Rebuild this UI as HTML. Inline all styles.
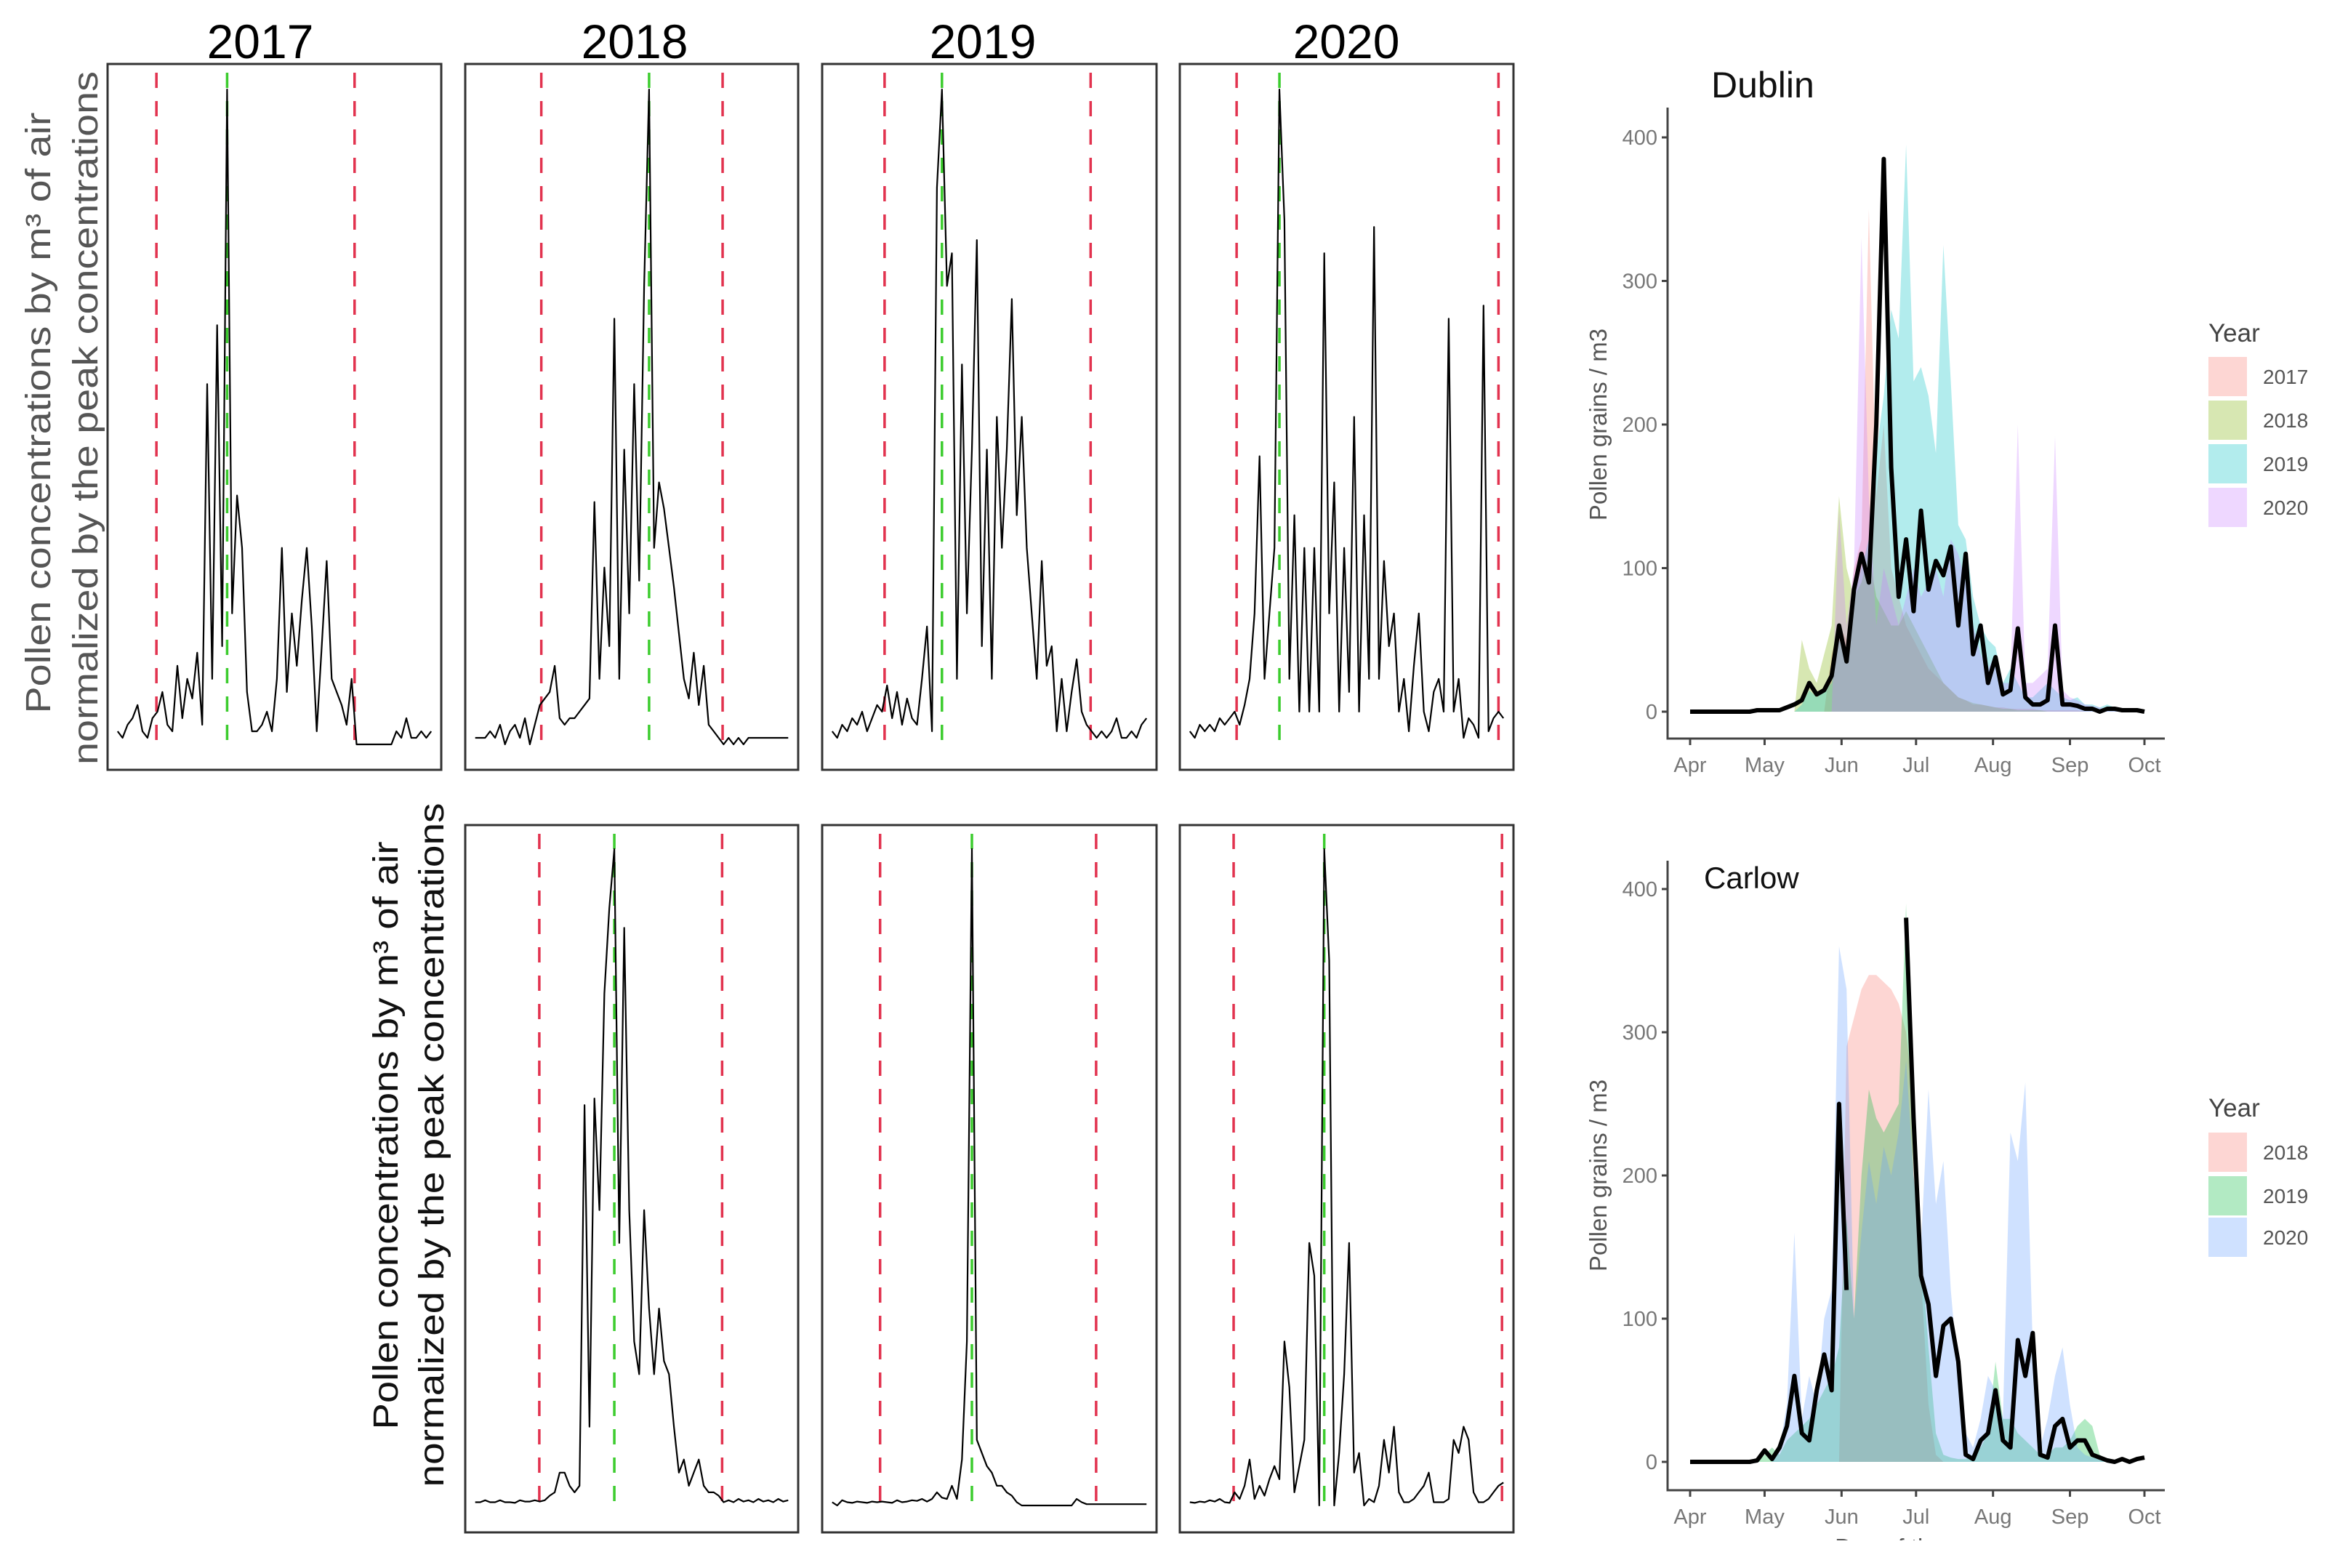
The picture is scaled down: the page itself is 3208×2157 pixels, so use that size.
<!DOCTYPE html>
<html><head><meta charset="utf-8"><style>
html,body{margin:0;padding:0;background:#fff;}
svg{display:block;font-family:"Liberation Sans",sans-serif;}
</style></head><body>
<svg id="fig" xmlns="http://www.w3.org/2000/svg" width="3208" height="2157" viewBox="0 0 3208 2157">
<rect x="0" y="0" width="3208" height="2157" fill="#fff"/>
<g fill="#555" font-size="48">
<text transform="translate(69,568) rotate(-90)" text-anchor="middle" textLength="827" lengthAdjust="spacingAndGlyphs">Pollen concentrations by m³ of air</text>
<text transform="translate(134,575) rotate(-90)" text-anchor="middle" textLength="954" lengthAdjust="spacingAndGlyphs">normalized by the peak concentrations</text>
</g>
<g fill="#111" font-size="48" font-family="'Liberation Sans Narrow','Liberation Sans',sans-serif">
<text transform="translate(547,1562) rotate(-90)" text-anchor="middle" textLength="809" lengthAdjust="spacingAndGlyphs">Pollen concentrations by m³ of air</text>
<text transform="translate(610,1575) rotate(-90)" text-anchor="middle" textLength="941" lengthAdjust="spacingAndGlyphs">normalized by the peak concentrations</text>
</g>
<g id="panels"></g>
<g id="dublin"></g>
<g id="carlow"></g>
</svg>
<script>
// ---------- small panel data (normalized concentrations) ----------
const top2017=[0.02,0.01,0.03,0.04,0.06,0.02,0.01,0.04,0.05,0.08,0.03,0.02,0.12,0.04,0.10,0.07,0.14,0.03,0.55,0.10,0.64,0.15,1.0,0.20,0.38,0.30,0.08,0.02,0.02,0.03,0.05,0.02,0.10,0.30,0.08,0.20,0.12,0.22,0.30,0.18,0.02,0.15,0.28,0.10,0.08,0.06,0.03,0.10,0.00,0,0,0,0,0,0,0,0.02,0.01,0.04,0.01,0.01,0.02,0.01,0.02];
const top2018=[0.01,0.01,0.01,0.02,0.01,0.03,0.0,0.02,0.03,0.01,0.04,0.0,0.03,0.06,0.07,0.08,0.12,0.04,0.03,0.04,0.04,0.05,0.06,0.07,0.37,0.10,0.27,0.15,0.65,0.10,0.45,0.20,0.55,0.25,0.70,1.0,0.30,0.40,0.36,0.30,0.24,0.17,0.10,0.07,0.14,0.06,0.12,0.03,0.02,0.01,0.0,0.01,0.0,0.01,0.0,0.01,0.01,0.01,0.01,0.01,0.01,0.01,0.01,0.01];
const top2019=[0.02,0.01,0.03,0.02,0.04,0.03,0.05,0.02,0.04,0.06,0.05,0.09,0.04,0.08,0.03,0.07,0.04,0.03,0.10,0.18,0.02,0.85,1.0,0.70,0.75,0.10,0.58,0.20,0.45,0.77,0.15,0.45,0.10,0.50,0.30,0.45,0.68,0.35,0.50,0.30,0.20,0.10,0.28,0.12,0.15,0.02,0.10,0.02,0.08,0.13,0.05,0.03,0.02,0.01,0.02,0.01,0.02,0.04,0.01,0.01,0.02,0.01,0.03,0.04];
const top2020=[0.02,0.01,0.03,0.02,0.03,0.02,0.04,0.03,0.04,0.05,0.03,0.06,0.10,0.20,0.44,0.10,0.20,0.30,1.0,0.80,0.10,0.35,0.05,0.30,0.05,0.30,0.05,0.75,0.20,0.40,0.05,0.30,0.08,0.50,0.05,0.35,0.10,0.79,0.10,0.28,0.15,0.20,0.05,0.10,0.02,0.12,0.20,0.05,0.02,0.08,0.10,0.05,0.65,0.05,0.10,0.01,0.04,0.03,0.01,0.67,0.02,0.04,0.05,0.04];
const bot2018=[0.005,0.005,0.008,0.005,0.005,0.008,0.005,0.005,0.004,0.008,0.006,0.006,0.008,0.006,0.008,0.015,0.02,0.05,0.05,0.03,0.02,0.03,0.61,0.12,0.62,0.45,0.78,0.91,1.0,0.40,0.88,0.45,0.25,0.20,0.45,0.30,0.20,0.30,0.22,0.20,0.12,0.05,0.07,0.03,0.05,0.07,0.03,0.02,0.02,0.015,0.005,0.008,0.005,0.01,0.006,0.008,0.005,0.01,0.006,0.008,0.005,0.01,0.006,0.008];
const bot2019=[0.005,0.0,0.008,0.005,0.004,0.006,0.005,0.004,0.006,0.005,0.006,0.005,0.004,0.008,0.005,0.006,0.008,0.007,0.01,0.006,0.01,0.02,0.012,0.01,0.03,0.01,0.07,0.25,1.0,0.10,0.08,0.06,0.05,0.03,0.03,0.02,0.015,0.005,0,0,0,0,0,0,0,0,0,0,0,0.01,0.005,0.002,0.002,0.002,0.002,0.002,0.002,0.002,0.002,0.002,0.002,0.002,0.002,0.002];
const bot2020=[0.005,0.004,0.006,0.005,0.008,0.006,0.01,0.005,0.004,0.02,0.01,0.03,0.07,0.01,0.03,0.015,0.04,0.06,0.04,0.25,0.18,0.02,0.06,0.10,0.40,0.35,0.0,1.0,0.83,0.0,0.08,0.20,0.40,0.05,0.08,0.0,0.01,0.005,0.03,0.10,0.05,0.12,0.02,0.005,0.005,0.01,0.02,0.03,0.05,0.005,0.005,0.005,0.01,0.10,0.08,0.12,0.10,0.02,0.005,0.005,0.01,0.02,0.03,0.035];
// season start (red), peak (green), season end (red) as series indices
const mk2017=[7.8,22,47.6];
const mk2018=[13.3,35,49.8];
const mk2019=[10.5,22,51.8];
const mk2020=[9.4,18,62];
const mkB2018=[12.9,28,49.7];
const mkB2019=[9.6,28,52.9];
const mkB2020=[8.8,27,62.7];
const panelYears=["2017","2018","2019","2020"];

// ---------- Dublin / Carlow data (pollen grains / m3, every 3 days from 1 Apr) ----------
const dayGrid=Array.from({length:62},(_,i)=>i*3);
const monthLabels=["Apr","May","Jun","Jul","Aug","Sep","Oct"];
const monthDays=[0,30,61,91,122,153,183];
const yTicks=[0,100,200,300,400];
const dublinMean=[0,0,0,0,0,0,0,0,0,1,1,1,1,3,5,8,20,12,15,25,60,35,85,110,90,200,385,170,80,120,70,140,85,105,95,115,60,110,40,60,20,38,12,15,58,10,5,5,8,60,5,5,4,2,2,0,2,2,1,1,1,0];
const dublin2017=[0,0,0,0,0,0,0,0,0,0,0,0,0,0,0,0,0,0,0,40,60,50,100,120,350,150,200,100,80,60,50,40,30,25,20,15,10,8,5,5,4,3,3,2,2,2,2,1,1,1,1,1,1,0,0,0,0,0,0,0,0,0];
const dublin2018=[0,0,0,0,0,0,0,0,0,0,0,0,0,0,0,50,30,20,40,60,150,100,80,90,110,80,70,60,60,70,60,50,40,30,20,15,10,8,6,5,4,3,2,2,1,1,1,1,0,0,0,0,0,0,0,0,0,0,0,0,0,0];
const dublin2019=[0,0,0,0,0,0,0,0,0,0,0,0,0,0,0,5,15,10,15,20,50,40,80,100,120,180,220,280,260,395,230,240,220,180,325,230,130,120,80,60,50,45,20,30,20,10,10,15,20,15,10,8,10,5,5,3,5,3,2,1,1,0];
const dublin2020=[0,0,0,0,0,0,0,0,0,0,0,0,0,0,0,0,0,0,0,0,140,60,100,330,150,60,100,80,60,80,100,80,90,100,80,120,110,90,60,40,30,40,20,20,200,20,20,25,30,192,15,10,8,5,4,3,2,2,1,1,0,0];
const carlowMean=[0,0,0,0,0,0,0,0,0,1,8,2,10,25,60,20,15,50,75,50,250,120,null,null,null,null,null,null,null,380,240,130,110,60,95,100,70,5,2,15,20,50,15,10,85,60,90,5,3,25,30,10,15,15,5,3,1,0,2,0,2,3];
const carlow2018=[0,0,0,0,0,0,0,0,0,0,0,0,0,0,0,0,0,0,0,0,0,290,310,330,340,340,335,330,320,300,250,130,40,5,0,0,0,0,0,0,0,0,0,0,0,0,0,0,0,0,0,0,0,0,0,0,0,0,0,0,0,0];
const carlow2019=[0,0,0,0,0,0,0,0,0,0,5,10,5,15,20,25,30,40,50,60,80,170,100,200,260,240,230,240,250,390,200,150,80,20,5,3,2,2,5,10,20,70,30,30,20,15,10,5,5,10,10,15,25,30,25,5,2,1,0,0,0,0];
const carlow2020=[0,0,0,0,0,0,0,0,0,0,0,0,10,40,160,30,60,40,100,120,360,330,100,160,210,180,220,200,230,280,200,150,260,180,210,120,60,20,10,30,60,50,30,230,210,265,80,10,30,60,80,40,10,5,3,2,1,0,0,0,0,0];

const NS="http://www.w3.org/2000/svg";
function mk(tag,attrs,parent){const e=document.createElementNS(NS,tag);for(const k in attrs)e.setAttribute(k,attrs[k]);parent.appendChild(e);return e;}

// ---------- small panels ----------
const panelsG=document.getElementById('panels');
const colX=[[148,607],[640,1098],[1131,1591],[1623,2082]];
const titleX=[358,873,1352,1852];
const rowY=[[88,1059,123,1024],[1135,2108,1168,2071]];
const panelDefs=[
 [0,0,top2017,mk2017],[0,1,top2018,mk2018],[0,2,top2019,mk2019],[0,3,top2020,mk2020],
 [1,1,bot2018,mkB2018],[1,2,bot2019,mkB2019],[1,3,bot2020,mkB2020]];
panelYears.forEach((yr,c)=>{
  const t=mk('text',{x:titleX[c],y:80,'text-anchor':'middle','font-size':66,fill:'#000'},panelsG);
  
  
  t.textContent=yr;
});
panelDefs.forEach(([r,c,vals,marks])=>{
  const [x0,x1]=colX[c];const [y0,y1,peakY,baseY]=rowY[r];
  const g=mk('g',{},panelsG);
  
  
  const n=vals.length;
  const xs=i=>x0+(x1-x0)*(0.03+0.94*i/(n-1));
  const ys=v=>baseY-v*(baseY-peakY);
  const box=mk('rect',{x:x0,y:y0,width:x1-x0,height:y1-y0,fill:'none',stroke:'#333','stroke-width':3},g);
  
  
  marks.forEach((m,k)=>{
    const ln=mk('line',{x1:xs(m),x2:xs(m),y1:y0+12,y2:baseY+6,stroke:k===1?'#3ccc2e':'#e2334f','stroke-width':3.5,'stroke-dasharray':'21 18'},g);
    
    
  });
  const pts=vals.map((v,i)=>xs(i).toFixed(1)+','+ys(v).toFixed(1)).join(' ');
  const pl=mk('polyline',{points:pts,fill:'none',stroke:'#000','stroke-width':2.2,'stroke-linejoin':'round'},g);
  
  
});

// ---------- ggplot-like charts ----------
function drawCity(gid,cfg){
  const g=document.getElementById(gid);
  const xs=d=>2325+d*(2950-2325)/183;
  const ys=v=>cfg.y0-v*(cfg.y0-cfg.y400)/400;
  const tt=mk('text',{x:cfg.titleX,y:cfg.titleY,'font-size':cfg.titleSize,fill:'#111'},g);
  
  
  tt.textContent=cfg.title;
  cfg.layers.forEach((L,li)=>{
    let d='M'+xs(dayGrid[0])+','+ys(0);
    L.vals.forEach((v,i)=>{d+=' L'+xs(dayGrid[i]).toFixed(1)+','+ys(v).toFixed(1);});
    d+=' L'+xs(dayGrid[dayGrid.length-1])+','+ys(0)+' Z';
    const p=mk('path',{d:d,fill:L.color,'fill-opacity':0.3,stroke:'none'},g);
    
    
  });
  let d='';let pen=false;
  cfg.mean.forEach((v,i)=>{
    if(v===null){pen=false;return;}
    d+=(pen?' L':' M')+xs(dayGrid[i]).toFixed(1)+','+ys(v).toFixed(1);pen=true;
  });
  const ml=mk('path',{d:d,fill:'none',stroke:'#000','stroke-width':6,'stroke-linejoin':'round'},g);
  
  
  const ax=mk('path',{d:'M2294,'+cfg.axTop+' V'+cfg.axY+' H2978',fill:'none',stroke:'#444','stroke-width':3},g);
  
  
  yTicks.forEach(t=>{
    mk('line',{x1:2286,x2:2294,y1:ys(t),y2:ys(t),stroke:'#444','stroke-width':3},g);
    const tl=mk('text',{x:2280,y:ys(t)+10,'text-anchor':'end','font-size':29,fill:'#777'},g);
    
    
    tl.textContent=t;
  });
  monthDays.forEach((m,i)=>{
    mk('line',{x1:xs(m),x2:xs(m),y1:cfg.axY,y2:cfg.axY+9,stroke:'#444','stroke-width':3},g);
    const tl=mk('text',{x:xs(m),y:cfg.axY+46,'text-anchor':'middle','font-size':29,fill:'#777'},g);
    
    
    tl.textContent=monthLabels[i];
  });
  const yt=mk('text',{transform:'translate(2210,'+((cfg.y0+cfg.y400)/2)+') rotate(-90)','text-anchor':'middle','font-size':33,fill:'#555'},g);
  
  
  yt.textContent='Pollen grains / m3';
  const lt=mk('text',{x:3038,y:cfg.legY,'font-size':35,fill:'#444'},g);
  
  
  lt.textContent='Year';
  cfg.layers.forEach((L,i)=>{
    const sy=cfg.swY[i];
    const sw=mk('rect',{x:3038,y:sy,width:53,height:cfg.swH,fill:L.color,'fill-opacity':0.3},g);
    
    
    const tx=mk('text',{x:3113,y:sy+cfg.swH/2+10,'font-size':28,fill:'#555'},g);
    
    
    tx.textContent=L.year;
  });
}
drawCity('dublin',{name:'dublin',title:'Dublin',titleX:2354,titleY:134,titleSize:50,y0:979,y400:189,axTop:148,axY:1016,legY:470,swY:[491,551,611,671],swH:54,
  mean:dublinMean,layers:[{year:'2017',color:'#F8766D',vals:dublin2017},{year:'2018',color:'#7CAE00',vals:dublin2018},{year:'2019',color:'#00BFC4',vals:dublin2019},{year:'2020',color:'#C77CFF',vals:dublin2020}]});
drawCity('carlow',{name:'carlow',title:'Carlow',titleX:2344,titleY:1222,titleSize:42,y0:2011,y400:1223,axTop:1184,axY:2050,legY:1536,swY:[1558,1618,1675],swH:54,
  mean:carlowMean,layers:[{year:'2018',color:'#F8766D',vals:carlow2018},{year:'2019',color:'#00BA38',vals:carlow2019},{year:'2020',color:'#619CFF',vals:carlow2020}]});
const cg=document.getElementById('carlow');
const xt=mk('text',{x:2636,y:2140,'text-anchor':'middle','font-size':33,fill:'#555'},cg);


xt.textContent='Day of the year';
const cover=mk('rect',{x:2300,y:2119,width:700,height:40,fill:'#fff'},cg);


</script>
</body></html>
